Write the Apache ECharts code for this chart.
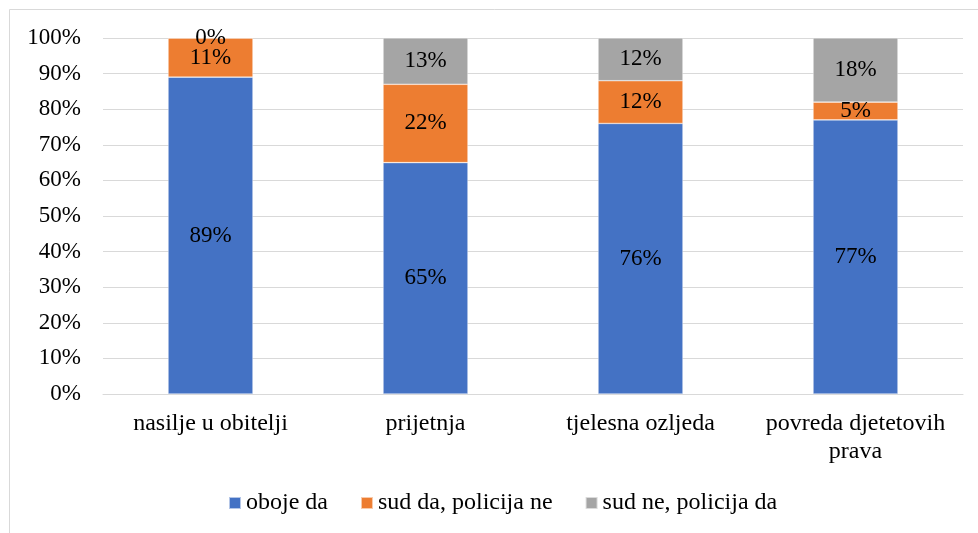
<!DOCTYPE html>
<html>
<head>
<meta charset="utf-8">
<script src="https://cdn.jsdelivr.net/npm/echarts@6/dist/echarts.min.js"></script>
<style>
  html, body { margin: 0; padding: 0; background: #fff; }
  #chart { width: 978px; height: 533px; }
</style>
</head>
<body>
<div id="chart"></div>
<script>
// Categories and shares (percent) for each answer group
const categories = ['nasilje u obitelji', 'prijetnja', 'tjelesna ozljeda', 'povreda djetetovih\nprava'];
const obojeDa = [89, 65, 76, 77];
const sudDaPolicijaNe = [11, 22, 12, 5];
const sudNePolicijaDa = [0, 13, 12, 18];
const seriesNames = ['oboje da', 'sud da, policija ne', 'sud ne, policija da'];
const colors = ['#4472C4', '#ED7D31', '#A5A5A5'];

const font = '"Liberation Serif", "Times New Roman", serif';
const chart = echarts.init(document.getElementById('chart'), null, { renderer: 'canvas' });

function barSeries(name, data, color) {
  return {
    name: name,
    type: 'bar',
    stack: 'total',
    data: data,
    barWidth: '39.5%',
    itemStyle: { color: color, borderColor: 'rgba(255,255,255,0.6)', borderWidth: 0.6 },
    label: {
      show: true,
      position: 'inside',
      formatter: p => p.value + '%',
      color: '#000',
      fontFamily: font,
      fontSize: 23
    }
  };
}

chart.setOption({
  animation: false,
  backgroundColor: '#fff',
  color: colors,
  graphic: [{
    type: 'rect',
    shape: { x: 9.5, y: 9.5, width: 1000, height: 600 },
    style: { fill: 'none', stroke: '#d9d9d9', lineWidth: 1 },
    silent: true,
    z: -1
  }],
  grid: { left: 103, right: 15, top: 38, bottom: 139, containLabel: false },
  legend: {
    top: 486,
    left: 223,
    itemWidth: 12,
    itemHeight: 12,
    itemGap: 32,
    icon: 'rect',
    textStyle: { fontFamily: font, fontSize: 24, color: '#000', padding: [0, 0, 0, 0] },
    data: seriesNames
  },
  xAxis: {
    type: 'category',
    data: categories,
    axisLine: { show: true, lineStyle: { color: '#d9d9d9', width: 1 } },
    axisTick: { show: false },
    axisLabel: {
      color: '#000', fontFamily: font, fontSize: 24, margin: 16, lineHeight: 28,
      interval: 0
    }
  },
  yAxis: {
    type: 'value',
    min: 0,
    max: 100,
    interval: 10,
    axisLabel: {
      formatter: '{value}%',
      color: '#000', fontFamily: font, fontSize: 23, margin: 22
    },
    axisLine: { show: false },
    axisTick: { show: false },
    splitLine: { lineStyle: { color: '#d9d9d9', width: 1 } }
  },
  series: [
    barSeries(seriesNames[0], obojeDa, colors[0]),
    barSeries(seriesNames[1], sudDaPolicijaNe, colors[1]),
    barSeries(seriesNames[2], sudNePolicijaDa, colors[2])
  ]
});
</script>
</body>
</html>
